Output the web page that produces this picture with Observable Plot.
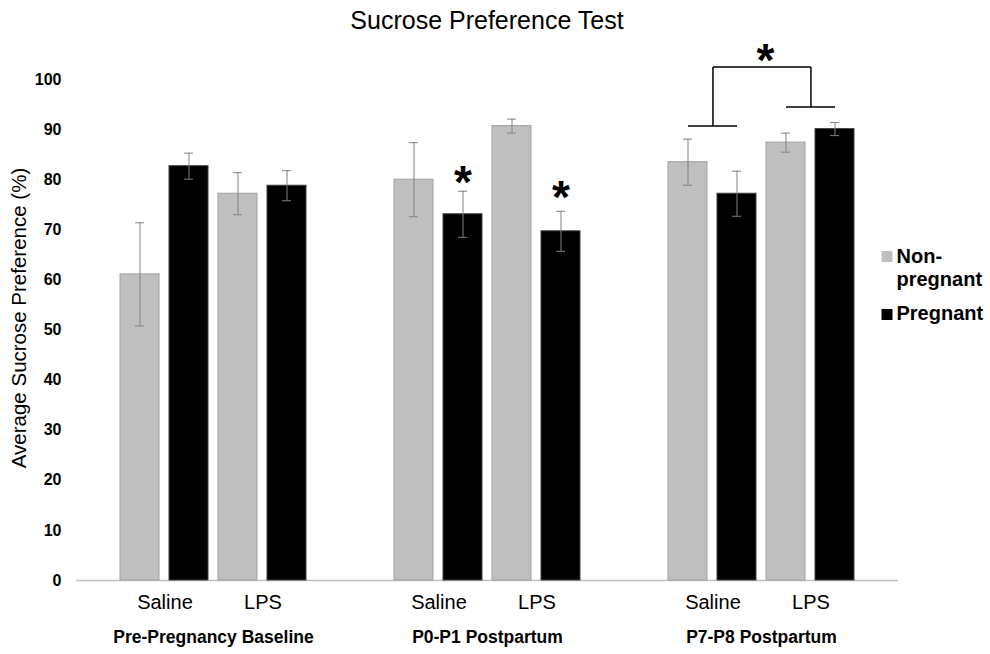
<!DOCTYPE html>
<html>
<head>
<meta charset="utf-8">
<script src="https://cdn.jsdelivr.net/npm/d3@7"></script>
<script src="https://cdn.jsdelivr.net/npm/@observablehq/plot@0.6"></script>
<style>
  body { margin: 0; background: #fff; font-family: "Liberation Sans", Arial, sans-serif; }
  #title { height: 40px; line-height: 40px; margin-left: 76px; width: 822px; text-align: center; font-size: 25px; color: #000; }
</style>
</head>
<body>
<div id="title">Sucrose Preference Test</div>
<div id="chart"></div>
<script>
// ---- data ----
const groups = ["Pre-Pregnancy Baseline", "P0-P1 Postpartum", "P7-P8 Postpartum"];
const treatments = ["Saline", "LPS"];
const statuses = ["Non-pregnant", "Pregnant"];
// order within a group: Saline/Non-pregnant, Saline/Pregnant, LPS/Non-pregnant, LPS/Pregnant
const preMeans = [61.1, 82.7, 77.2, 78.8];
const preErrors = [10.3, 2.6, 4.2, 3.0];
const p0Means = [80.0, 73.1, 90.7, 69.7];
const p0Errors = [7.4, 4.6, 1.4, 4.0];
const p7Means = [83.5, 77.2, 87.4, 90.1];
const p7Errors = [4.6, 4.5, 1.9, 1.3];
const yTicks = [0, 10, 20, 30, 40, 50, 60, 70, 80, 90, 100];
const yLabel = "Average Sucrose Preference (%)";
const legendLabels = ["Non-\npregnant", "Pregnant"];
// significance annotations
const starBars = [["P0-P1 Postpartum", "Saline Pregnant", 80.8], ["P0-P1 Postpartum", "LPS Pregnant", 77.8]];
const bracketGroup = "P7-P8 Postpartum";
const bracketLeftY = 90.7, bracketRightY = 94.5, bracketTopY = 102.5, bracketStarY = 105.2;

// ---- tables ----
const meansByGroup = [preMeans, p0Means, p7Means];
const errorsByGroup = [preErrors, p0Errors, p7Errors];
const barKeys = treatments.flatMap(t => statuses.map(s => `${t} ${s}`));
const rows = groups.flatMap((g, gi) => barKeys.map((k, ki) => ({
  group: g, bar: k, status: statuses[ki % 2], treatment: treatments[Math.floor(ki / 2)],
  mean: meansByGroup[gi][ki], err: errorsByGroup[gi][ki]
})));
const treatLabels = groups.flatMap(g => treatments.map(t => ({group: g, bar: `${t} ${statuses[0]}`, label: t})));
const stars = starBars.map(([group, bar, y]) => ({group, bar, y}));
const bracketPairs = [
  {group: bracketGroup, x1: barKeys[0], x2: barKeys[1], y1: bracketLeftY, y2: bracketLeftY},
  {group: bracketGroup, x1: barKeys[2], x2: barKeys[3], y1: bracketRightY, y2: bracketRightY}
];
const bracketStems = [
  {group: bracketGroup, x1: barKeys[0], x2: barKeys[0], y1: bracketLeftY, y2: bracketTopY},
  {group: bracketGroup, x1: barKeys[0], x2: barKeys[2], y1: bracketTopY, y2: bracketTopY},
  {group: bracketGroup, x1: barKeys[2], x2: barKeys[2], y1: bracketTopY, y2: bracketRightY}
];

// ---- layout ----
const W = 990, H = 614, ML = 76, MR = 92, MT = 39, MB = 74;
const padIn = 0.21, padOut = 0.85;
const facetW = (W - ML - MR) / groups.length;
const half = facetW / (barKeys.length - padIn + 2 * padOut) / 2;
const font = "Liberation Sans, Arial, sans-serif";
const errColor = "#808080";

const chart = Plot.plot({
  width: W, height: H, marginTop: MT, marginBottom: MB, marginLeft: ML, marginRight: MR,
  style: {fontFamily: font, color: "#000", background: "#fff", overflow: "visible"},
  fx: {domain: groups, padding: 0, axis: null},
  x: {domain: barKeys, paddingInner: padIn, paddingOuter: padOut, axis: null},
  y: {domain: [0, 100]},
  marks: [
    Plot.ruleY([0], {stroke: "#c0c0c0", strokeWidth: 1.5}),
    Plot.axisY({ticks: yTicks, tickSize: 0, tickPadding: 15, fontSize: 16, fontWeight: "bold",
      label: null, line: true, stroke: "#c0c0c0", fill: "#000"}),
    Plot.barY(rows.filter(d => d.status === statuses[0]), {fx: "group", x: "bar", y: "mean", fill: "#bfbfbf", stroke: "#a0a0a0"}),
    Plot.barY(rows.filter(d => d.status === statuses[1]), {fx: "group", x: "bar", y: "mean", fill: "#000", stroke: "#404040"}),
    Plot.ruleX(rows, {fx: "group", x: "bar", y1: d => d.mean - d.err, y2: d => d.mean + d.err, stroke: errColor}),
    Plot.tickY(rows, {fx: "group", x: "bar", y: d => d.mean - d.err, stroke: errColor, insetLeft: 15, insetRight: 15}),
    Plot.tickY(rows, {fx: "group", x: "bar", y: d => d.mean + d.err, stroke: errColor, insetLeft: 15, insetRight: 15}),
    Plot.text(stars, {fx: "group", x: "bar", y: "y", text: () => "*", fontSize: 46, fontWeight: "bold", dy: 8}),
    Plot.text([bracketGroup], {fx: d => d, y: () => bracketStarY, text: () => "*", fontSize: 46, fontWeight: "bold", dy: 8, dx: 4}),
    Plot.link(bracketPairs, {fx: "group", x1: "x1", x2: "x2", y1: "y1", y2: "y2", stroke: "#000", strokeWidth: 1.5}),
    Plot.link(bracketStems, {fx: "group", x1: "x1", x2: "x2", y1: "y1", y2: "y2", stroke: "#000", strokeWidth: 1.5, dx: half}),
    Plot.text(treatLabels, {fx: "group", x: "bar", text: "label", frameAnchor: "bottom", dx: half, dy: 28, fontSize: 20}),
    Plot.text(groups, {fx: d => d, text: d => d, frameAnchor: "bottom", dy: 62.5, fontSize: 17.5, fontWeight: "bold"}),
    Plot.text([yLabel], {fx: () => groups[0], text: d => d, frameAnchor: "left", textAnchor: "middle", rotate: -90, dx: -57, dy: -12, fontSize: 20.5}),
    Plot.dot([statuses[0]], {fx: () => groups[2], frameAnchor: "top-right", symbol: "square", r: 6.2, fill: "#bfbfbf", dx: -11.5, dy: 177}),
    Plot.dot([statuses[1]], {fx: () => groups[2], frameAnchor: "top-right", symbol: "square", r: 6.2, fill: "#000", dx: -11.5, dy: 235}),
    Plot.text([legendLabels[0]], {fx: () => groups[2], text: d => d, frameAnchor: "top-right", textAnchor: "start", lineAnchor: "top",
      dx: -2, dy: 167, fontSize: 20, fontWeight: "bold", lineHeight: 1.15}),
    Plot.text([legendLabels[1]], {fx: () => groups[2], text: d => d, frameAnchor: "top-right", textAnchor: "start", lineAnchor: "top",
      dx: -2, dy: 226.5, fontSize: 20, fontWeight: "bold"})
  ]
});
document.getElementById("chart").appendChild(chart);
</script>
</body>
</html>
